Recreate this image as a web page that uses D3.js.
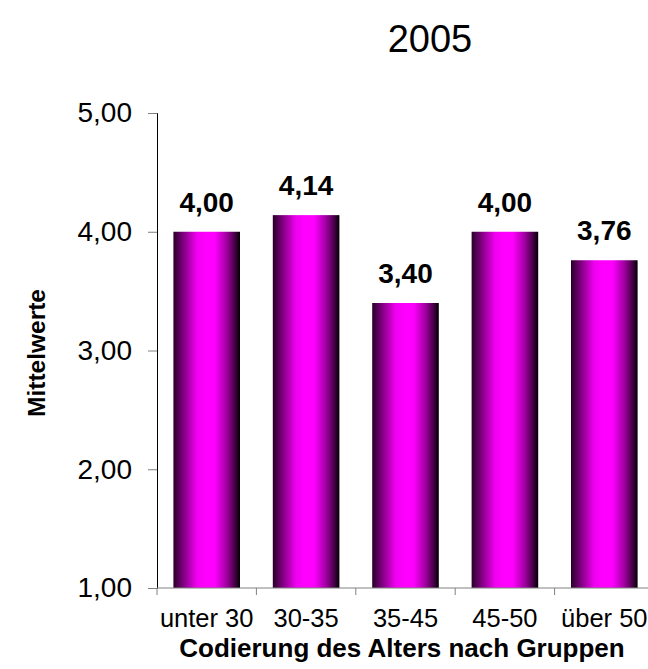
<!DOCTYPE html>
<html>
<head>
<meta charset="utf-8">
<script src="https://cdn.jsdelivr.net/npm/d3@7"></script>
<style>
  body { margin: 0; background: #fff; }
  svg { font-family: "Liberation Sans", Arial, sans-serif; }
</style>
</head>
<body>
<div id="chart"></div>
<script>
// Data
const categories = ['unter 30', '30-35', '35-45', '45-50', 'über 50'];
const values = [4.00, 4.14, 3.40, 4.00, 3.76];
const yTicks = [1, 2, 3, 4, 5];

const width = 648, height = 669;
const margin = { top: 113, right: -6, bottom: 81, left: 157 };

const svg = d3.select('#chart').append('svg')
  .attr('width', width)
  .attr('height', height);

// Gradient for the bars (dark edges, bright magenta centre)
const grad = svg.append('defs').append('linearGradient')
  .attr('id', 'barGrad')
  .attr('x1', '0%').attr('x2', '100%')
  .attr('y1', '0%').attr('y2', '0%');
[
  ['0%', '#280028'],
  ['15%', '#800080'],
  ['35%', '#f000f0'],
  ['48%', '#ff00ff'],
  ['62%', '#ff00ff'],
  ['80%', '#a000a0'],
  ['93%', '#400040'],
  ['100%', '#000000']
].forEach(([o, c]) => grad.append('stop').attr('offset', o).attr('stop-color', c));

const x = d3.scaleBand()
  .domain(categories)
  .range([margin.left, width - margin.right])
  .paddingInner(0.33)
  .paddingOuter(0.165);

const y = d3.scaleLinear()
  .domain([1, 5])
  .range([height - margin.bottom, margin.top]);

// Title
svg.append('text')
  .attr('x', 430)
  .attr('y', 52)
  .attr('text-anchor', 'middle')
  .attr('font-size', 38)
  .text('2005');

// Bars
svg.selectAll('rect.bar')
  .data(values)
  .enter()
  .append('rect')
  .attr('class', 'bar')
  .attr('x', (d, i) => x(categories[i]))
  .attr('y', d => y(d))
  .attr('width', x.bandwidth())
  .attr('height', d => y(1) - y(d))
  .attr('fill', 'url(#barGrad)');

// Value labels
svg.selectAll('text.val')
  .data(values)
  .enter()
  .append('text')
  .attr('class', 'val')
  .attr('x', (d, i) => x(categories[i]) + x.bandwidth() / 2)
  .attr('y', d => y(d) - 20)
  .attr('text-anchor', 'middle')
  .attr('font-size', 28)
  .attr('font-weight', 'bold')
  .text(d => d.toFixed(2).replace('.', ','));

// Y axis
const yAxis = svg.append('g')
  .attr('transform', `translate(${margin.left},0)`)
  .call(d3.axisLeft(y)
    .tickValues(yTicks)
    .tickSize(9)
    .tickPadding(16)
    .tickFormat(d => d.toFixed(2).replace('.', ',')));
yAxis.select('.domain').attr('stroke', '#000').attr('stroke-width', 1);
yAxis.selectAll('.tick line').attr('stroke', '#808080');
yAxis.selectAll('.tick text')
  .attr('font-size', 28)
  .attr('font-family', '"Liberation Sans", Arial, sans-serif')
  .attr('fill', '#000');

// X axis
const xStep = x.step();
const xBoundaries = d3.range(categories.length + 1).map(i => margin.left + i * xStep);
const xAxisG = svg.append('g');
xAxisG.append('line')
  .attr('x1', margin.left).attr('x2', width)
  .attr('y1', y(1)).attr('y2', y(1))
  .attr('stroke', '#808080');
xAxisG.selectAll('line.tick')
  .data(xBoundaries)
  .enter()
  .append('line')
  .attr('class', 'tick')
  .attr('x1', d => d).attr('x2', d => d)
  .attr('y1', y(1)).attr('y2', y(1) + 7)
  .attr('stroke', '#808080');
xAxisG.selectAll('text.cat')
  .data(categories)
  .enter()
  .append('text')
  .attr('class', 'cat')
  .attr('x', d => x(d) + x.bandwidth() / 2)
  .attr('y', 627)
  .attr('text-anchor', 'middle')
  .attr('font-size', 25.5)
  .text(d => d);

// Axis titles
svg.append('text')
  .attr('x', 402)
  .attr('y', 657)
  .attr('text-anchor', 'middle')
  .attr('font-size', 26)
  .attr('font-weight', 'bold')
  .text('Codierung des Alters nach Gruppen');

svg.append('text')
  .attr('transform', 'translate(45,353) rotate(-90)')
  .attr('text-anchor', 'middle')
  .attr('font-size', 24.5)
  .attr('font-weight', 'bold')
  .text('Mittelwerte');
</script>
</body>
</html>
